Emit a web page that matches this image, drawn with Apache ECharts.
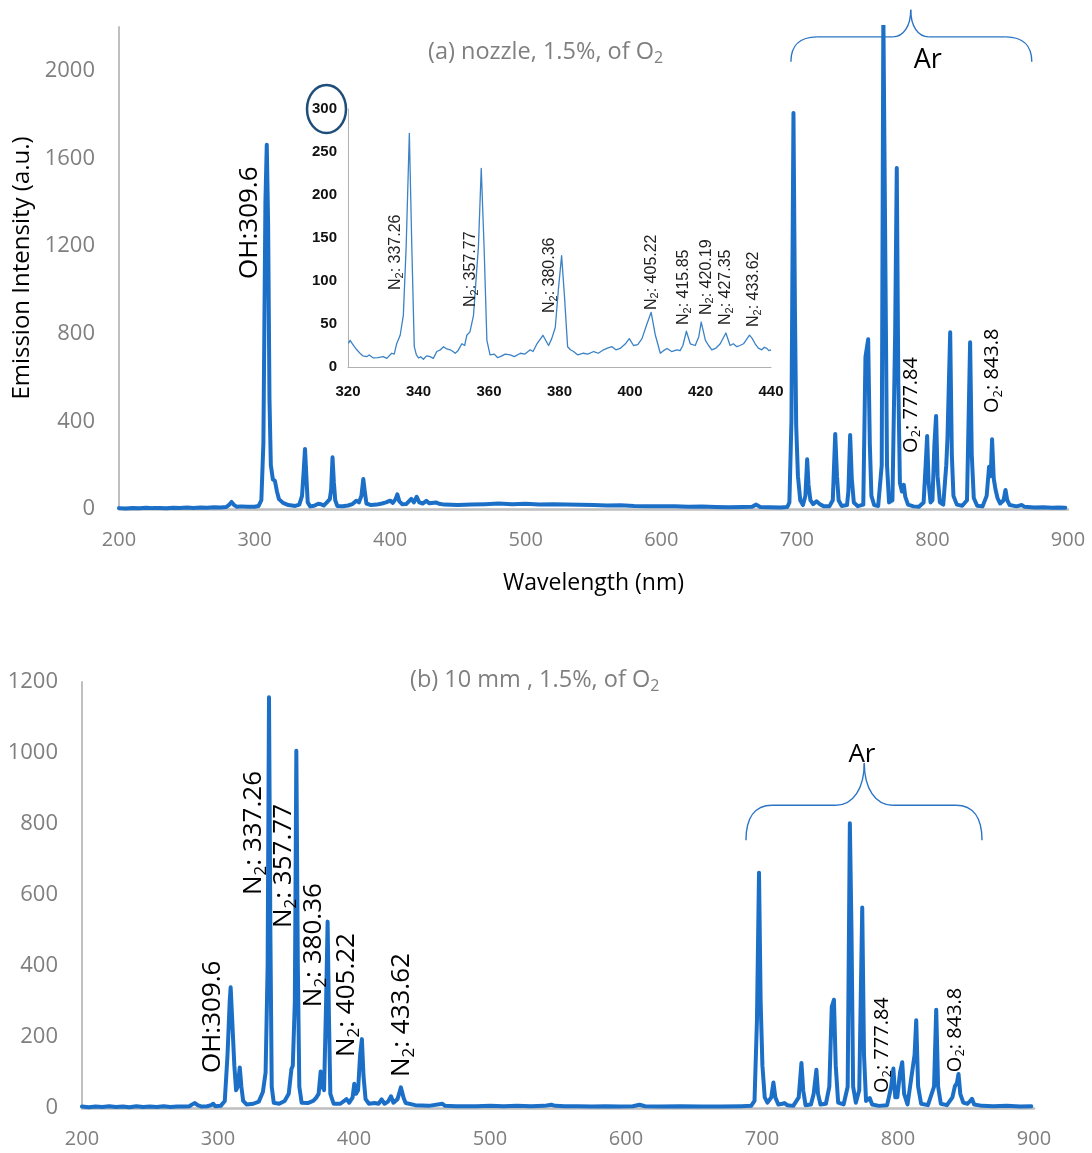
<!DOCTYPE html>
<html>
<head>
<meta charset="utf-8">
<script src="https://cdn.jsdelivr.net/npm/echarts@6/dist/echarts.min.js"></script>
<style>html,body{margin:0;padding:0;background:#fff}#c{width:1092px;height:1153px}</style>
</head>
<body>
<div id="c"></div>
<script>
// ---------- DATA ----------
const xTicks = [200, 300, 400, 500, 600, 700, 800, 900];
const insetXTicks = [320, 340, 360, 380, 400, 420, 440];

// (a) nozzle spectrum [wavelength nm, intensity a.u.]
const nozzleSpectrum = [
[200,4],[205,2],[210,5],[215,3],[220,6],[225,4],[230,5],[235,3],[240,6],[245,5],[250,7],[255,5],[260,7],[265,6],[270,8],[275,7],[279,9],[281,18],[283,32],[285,18],[287,10],[290,12],[295,10],[300,10],[303,14],
[305,40],[306.5,300],[308,1400],[309,1662],[310,1300],[311,500],[312,200],[313.5,135],[315,128],[316.5,80],[318,45],[321,28],[325,18],[330,14],[333,20],
[335,60],[336.3,180],[337.2,274],[338.2,150],[339.2,30],[341,12],[344,15],[347,24],[349,22],[351,16],[353,28],[355.5,45],[356.5,90],[357.5,236],[358.5,120],[359.5,40],[361,14],[365,13],[369,16],[372,22],[375,38],[377,30],[378.8,60],[380.2,137],[381.3,80],[382.5,25],
[386,18],[390,20],[394,25],[397,30],[400,38],[402,28],[404,45],[405.3,67],[406.8,35],[409,22],[412,23],[415.6,46],[417.5,30],[419.6,56],[421.5,30],[424,25],[426.7,37],[429,26],[433.8,30],[436,24],
[440,20],[450,18],[460,20],[470,22],[480,25],[490,22],[500,24],[510,21],[520,22],[530,20],[540,19],[550,18],[560,16],[570,17],[580,14],[590,13],[600,12],[610,12],[620,10],[630,11],[640,9],[650,8],[660,9],[667,10],[670,20],[673,9],[680,8],[688,7],[693,9],
[694.5,30],[696,400],[697.5,1807],[698.6,900],[699.5,380],[700.8,150],[702.5,40],[704.5,18],
[706.3,60],[707.6,227],[708.6,110],[710,40],[712,22],[714.5,35],[715.7,42],[717,22],[720,12],[724,12],
[726.5,40],[728.3,342],[729.6,150],[730.8,40],[733,14],[737,18],[738,80],[739.3,338],[740.5,140],[742,30],[745,13],
[749,20],[750.6,694],[752.6,775],[753.8,300],[755,60],[757,18],[760,14],[762.6,200],[763.8,2260],[765.2,2260],[766.5,200],[768,30],
[770.5,40],[772.5,800],[773.7,1556],[774.8,600],[776,120],[777.5,80],[778.9,110],[780,55],[782,20],[786,12],[790,10],
[793.5,30],[795,200],[796.1,333],[797.2,120],[798.6,30],[800,40],[801.5,300],[802.7,425],[803.8,150],[805.5,30],[808,20],
[810.2,200],[811.1,324],[813.1,807],[814.3,250],[815.5,60],[818,20],[822,15],[825.5,40],[827.8,761],[829,250],[830.5,50],[833,15],[837,12],
[840,60],[841.8,193],[843,150],[844,318],[845.2,140],[846.5,90],[848,50],[850,25],[852.5,40],[853.9,87],[855.2,40],[857,18],[862,12],[866,18],[868,10],[875,7],[882,8],[888,6],[893,7],[898,6]
];

// inset of (a): 320-440 nm
const insetSpectrum = [
[320.1,27.5],[320.6,31],[320.9,29.5],[321.4,26],[321.8,23.6],[322.5,20],[323.4,15.9],[324.2,13],[325.3,12],[326,14],[327.2,10.5],[328.5,11],[330,12],[331,10],[332.4,16],[333.1,15],[333.8,27],[334.8,36.9],[335.7,60],[336.5,140],[337.4,271.7],[338.1,140],[338.8,23.6],
[339.4,14],[340,10.5],[340.6,12],[341.4,9],[342.3,13],[343.3,12],[344.2,10],[345.2,18],[346.2,20],[347.1,23.6],[348,21],[349,20],[349.8,18],[350.4,16],[351.2,19],[352.3,27],[353.1,25],[353.7,36.9],[354.6,40.9],[355.6,60],[357,140],[357.8,231],[358.6,140],[359.4,31],
[360.3,14],[361.5,15],[362.4,11],[363.2,12],[364.6,15],[366,14],[367.2,12],[368.9,16],[370.2,15],[371.7,20],[372.5,18],[373.6,27],[375.3,36.9],[376.9,25],[377.8,33],[378.8,46],[379.7,91],[380.6,129.5],[381.4,83],[382.3,23.6],
[383.1,20],[384,18],[385.2,14],[386.8,16],[388,15],[389.7,18],[391,16],[392.5,20],[393.6,22],[394.9,23.6],[396,20],[397.2,21.6],[398.7,27],[399.8,33],[401,25],[402.2,26],[403.4,33],[404.8,50],[406,63.6],[407.2,36.9],[408.6,16],
[409.5,19],[410.5,21.6],[411.8,18],[413.3,20],[414.2,19],[415,25],[416,41.6],[417.1,27],[418.5,25],[419.5,35],[420.2,52.3],[421.4,31],[422.3,25],[423.2,20],[424.4,22],[425.6,27],[427.2,39.5],[428.4,25],
[429.3,27],[430.3,23.6],[431.2,25],[432.2,27],[433.9,37],[434.7,33],[435.5,27],[436.4,22],[437.4,20],[438.1,23],[438.8,21.6],[439.4,19],[440,20]
];

// (b) 10 mm spectrum
const tenMmSpectrum = [
[200,4],[205,2],[210,4],[215,3],[220,5],[225,3],[230,4],[235,2],[240,5],[245,3],[250,4],[255,3],[260,5],[265,3],[270,4],[275,4],[279,5],[281,10],[283,14],[285,8],[288,4],[292,5],[295,8],[296.5,12],[298,5],[302,6],
[305,20],[307,150],[308.6,300],[309.3,340],[310.3,260],[312,120],[313.3,50],[314.5,60],[316,114],[317.2,60],[318.5,20],[321,10],[326,12],[330,18],
[333,45],[335,100],[336.5,400],[337.5,1157],[338.5,500],[339.5,60],[341,15],[345,12],[349,20],[352,40],[354,110],[355,119],[356.5,300],[357.6,1006],[358.7,400],[359.8,60],[361.5,15],
[366,14],[370,20],[372,28],[374,40],[375.5,103],[376.8,60],[378,50],[379.5,300],[380.6,525],[381.6,250],[382.6,40],[385,12],[390,12],
[394.5,25],[396.5,15],[399,30],[400.2,68],[401.5,40],[403,50],[404.5,150],[405.8,194],[407,90],[408.5,25],[411,12],[415,14],[418,12],[420.3,24],[422.5,12],[425,18],[427.2,33],[429,15],[432,25],[434.5,58],[436.5,28],[438,14],
[445,8],[455,6],[465,12],[467,6],[475,5],[490,5],[500,6],[510,5],[520,6],[530,5],[540,6],[545,9],[548,6],[555,5],[565,5],[575,4],[585,5],[595,4],[605,5],[610,9],[614,5],[625,4],[640,5],[655,4],[670,4],[685,5],[692,6],
[694.5,20],[696.3,250],[697.8,663],[699,300],[700.3,120],[702,30],[704,15],
[706.8,30],[708.4,72],[709.8,30],[712,10],[715,12],[716.5,14],[718.5,8],[723,6],[727,30],[729,127],[730.3,50],[732,8],[736,10],[738,40],[740,108],[741.2,40],[743,10],
[747,12],[749.5,60],[751.3,285],[752.9,305],[754.2,120],[756,15],[760,10],[763,60],[764.6,802],[765.8,500],[767,60],[769,15],[771.5,50],[773.7,565],[775,150],[776.5,20],[779.2,28],[781,10],[786,6],
[792,8],[795,60],[796.6,111],[798,30],[799.5,30],[801.5,100],[803.1,129],[804.5,40],[807,10],[810.3,99],[812.2,150],[813.4,247],[814.8,60],[817,12],[822,8],
[826.5,60],[828.1,277],[829.5,60],[831.5,12],[836,8],[840,30],[841.8,61],[843.3,70],[844.5,96],[845.8,40],[848,15],[851,12],[853.2,20],[854.4,26],[856,10],[862,6],[870,5],[880,6],[890,4],[898,5]
];

// annotation labels: [species, wavelength label, anchor wavelength, anchor intensity]
const labelsA = [['OH', ':309.6', 296.6, 1050], ['O2', ': 777.84', 784.1, 256], ['O2', ': 843.8', 844.5, 438]];
const labelsInset = [['N2', ': 337.26', 333.6, 89.5], ['N2', ': 357.77', 354.9, 69.8], ['N2', ': 380.36', 377.3, 62.8], ['N2', ': 405.22', 406, 66.3],
  ['N2', ': 415.85', 415.3, 48.8], ['N2', ': 420.19', 421.6, 60.5], ['N2', ': 427.35', 427.2, 48.8], ['N2', ': 433.62', 435.2, 46.5]];
const labelsB = [['OH', ':309.6', 296.3, 98.5], ['N2', ': 337.26', 326.5, 600], ['N2', ': 357.77', 348.5, 507], ['N2', ': 380.36', 370.6, 284],
  ['N2', ': 405.22', 394.9, 143.5], ['N2', ': 433.62', 435.3, 87], ['O2', ': 777.84', 788.2, 42], ['O2', ': 843.8', 841.9, 101]];
// Ar group range (nm) for braces
const arRange = [695.6, 784, 873.3];
const arRangeB = [688.2, 775.2, 861.8];

// ---------- CHART ----------
const FONT = '"Open Sans", "Noto Sans", sans-serif';
const NARROW = '"Liberation Sans Narrow", "Arial Narrow", "Liberation Sans", sans-serif';
const BLUE = '#1c6fc7';
const GRAY_AXIS = '#bfbfbf';
const GRAY_TXT = '#7f7f7f';
const plain = function (v) { return String(v); };

const chart = echarts.init(document.getElementById('c'), null, {renderer: 'canvas'});

function mainX(gi) {
  return {gridIndex: gi, type: 'value', min: 200, max: 900, interval: 100,
    axisLine: {show: true, onZero: false, lineStyle: {color: GRAY_AXIS, width: 2.5}},
    axisTick: {show: false}, splitLine: {show: false},
    axisLabel: {color: GRAY_TXT, fontFamily: FONT, fontSize: 20, margin: 21, formatter: plain}};
}
function mainY(gi, max, interval) {
  return {gridIndex: gi, type: 'value', min: 0, max: max, interval: interval,
    axisLine: {show: true, lineStyle: {color: GRAY_AXIS, width: 2}},
    axisTick: {show: false}, splitLine: {show: false},
    axisLabel: {color: GRAY_TXT, fontFamily: FONT, fontSize: 22, margin: 24, formatter: plain, showMaxLabel: max % interval === 0}};
}
function titleRich() {
  return {rich: {t: {fontFamily: FONT, fontSize: 23.5, fontWeight: 'normal', color: GRAY_TXT, lineHeight: 28},
                 s: {fontFamily: FONT, fontSize: 16, fontWeight: 'normal', color: GRAY_TXT, verticalAlign: 'bottom', lineHeight: 13}}};
}

const option = {
  animation: false,
  backgroundColor: '#fff',
  title: [
    {text: '{t|(a) nozzle, 1.5%, of O}{s|2}', left: 423, top: 33, textStyle: titleRich()},
    {text: '{t|(b) 10 mm , 1.5%, of O}{s|2}', left: 405, top: 661, textStyle: titleRich()}
  ],
  grid: [
    {left: 119, top: 27, width: 949, height: 482},
    {left: 348, top: 109, width: 423, height: 258},
    {left: 82, top: 682, width: 952, height: 426}
  ],
  xAxis: [
    Object.assign(mainX(0), {name: 'Wavelength (nm)', nameLocation: 'middle', nameGap: 63,
      nameTextStyle: {color: '#000', fontFamily: FONT, fontSize: 23}}),
    {gridIndex: 1, type: 'value', min: 320, max: 440, interval: 20,
      axisLine: {show: true, onZero: false, lineStyle: {color: '#b0b0b0', width: 1}},
      axisTick: {show: false}, splitLine: {show: false},
      axisLabel: {color: '#111', fontFamily: NARROW, fontWeight: 'bold', fontSize: 15, margin: 17}},
    mainX(2)
  ],
  yAxis: [
    Object.assign(mainY(0, 2200, 400), {name: 'Emission Intensity (a.u.)', nameLocation: 'middle', nameGap: 73,
      nameTextStyle: {color: '#000', fontFamily: FONT, fontSize: 24}}),
    {gridIndex: 1, type: 'value', min: 0, max: 300, interval: 50,
      axisLine: {show: true, lineStyle: {color: '#b0b0b0', width: 1}},
      axisTick: {show: false}, splitLine: {show: false},
      axisLabel: {color: '#111', fontFamily: NARROW, fontWeight: 'bold', fontSize: 15, margin: 11}},
    mainY(2, 1200, 200)
  ],
  series: [
    {type: 'line', xAxisIndex: 0, yAxisIndex: 0, data: nozzleSpectrum, showSymbol: false, symbol: 'none', clip: true,
      lineStyle: {color: BLUE, width: 4, join: 'round', cap: 'round'}},
    {type: 'line', xAxisIndex: 1, yAxisIndex: 1, data: insetSpectrum, showSymbol: false, symbol: 'none',
      lineStyle: {color: '#3b82c6', width: 1.3, join: 'round'}},
    {type: 'line', xAxisIndex: 2, yAxisIndex: 2, data: tenMmSpectrum, showSymbol: false, symbol: 'none',
      lineStyle: {color: BLUE, width: 4, join: 'round', cap: 'round'}}
  ]
};
chart.setOption(option);

// ---------- ANNOTATIONS ----------
const graphics = [];
function sub(name) { return name === 'OH' ? '{m|OH}' : '{m|' + name[0] + '}{s|' + name[1] + '}'; }
function addLabels(list, gi, size, subSize, color, family, weight) {
  list.forEach(function (l) {
    const p = chart.convertToPixel({gridIndex: gi}, [l[2], l[3]]);
    graphics.push({type: 'text', x: p[0], y: p[1], rotation: Math.PI / 2, z: 100,
      style: {text: sub(l[0]) + '{m|' + l[1] + '}', align: 'left', verticalAlign: 'middle',
        rich: {m: {fontSize: size, fontFamily: family, fill: color, color: color, fontWeight: weight, lineHeight: size * 1.2},
               s: {fontSize: subSize, fontFamily: family, fill: color, color: color, fontWeight: weight, verticalAlign: 'bottom', lineHeight: subSize}}}});
  });
}
addLabels(labelsA.slice(0, 1), 0, 26, 17, '#000', FONT, 'normal');
addLabels(labelsA.slice(1), 0, 20, 13, '#000', FONT, 'normal');
addLabels(labelsInset, 1, 16, 11, '#222', '"Liberation Sans", Arial, sans-serif', 'normal');
addLabels(labelsB.slice(0, 6), 2, 26, 17, '#000', FONT, 'normal');
addLabels(labelsB.slice(6), 2, 20, 13, '#000', FONT, 'normal');

function brace(gi, range, vEnd, vMid, vTip, rEnd, rTip) {
  const L = chart.convertToPixel({gridIndex: gi}, [range[0], vEnd]);
  const C = chart.convertToPixel({gridIndex: gi}, [range[1], vTip]);
  const R = chart.convertToPixel({gridIndex: gi}, [range[2], vEnd]);
  const yM = chart.convertToPixel({gridIndex: gi}, [range[1], vMid])[1];
  const st = {stroke: '#2b74c4', lineWidth: 1.4, fill: 'none'};
  const yE = L[1], xL = L[0], xR = R[0], xC = C[0], yT = C[1];
  const dE = yE - yM, dT = yM - yT;
  graphics.push(
    {type: 'bezierCurve', shape: {x1: xL, y1: yE, x2: xL + rEnd, y2: yM, cpx1: xL, cpy1: yM + dE * 0.35, cpx2: xL + rEnd * 0.35, cpy2: yM}, style: st},
    {type: 'line', shape: {x1: xL + rEnd, y1: yM, x2: xC - rTip, y2: yM}, style: st},
    {type: 'bezierCurve', shape: {x1: xC - rTip, y1: yM, x2: xC, y2: yT, cpx1: xC - rTip * 0.4, cpy1: yM, cpx2: xC, cpy2: yM - dT * 0.4}, style: st},
    {type: 'bezierCurve', shape: {x1: xC, y1: yT, x2: xC + rTip, y2: yM, cpx1: xC, cpy1: yM - dT * 0.4, cpx2: xC + rTip * 0.4, cpy2: yM}, style: st},
    {type: 'line', shape: {x1: xC + rTip, y1: yM, x2: xR - rEnd, y2: yM}, style: st},
    {type: 'bezierCurve', shape: {x1: xR - rEnd, y1: yM, x2: xR, y2: yE, cpx1: xR - rEnd * 0.35, cpy1: yM, cpx2: xR, cpy2: yM + dE * 0.35}, style: st}
  );
}
brace(0, arRange, 2041, 2155, 2279, 26, 18);
brace(2, arRangeB, 754, 853, 971, 26, 28);

function arText(gi, wl, v, size) {
  const p = chart.convertToPixel({gridIndex: gi}, [wl, v]);
  graphics.push({type: 'text', x: p[0], y: p[1], z: 100,
    style: {text: 'Ar', fontFamily: FONT, fontSize: size, fill: '#000', align: 'center', verticalAlign: 'middle'}});
}
arText(0, 796.6, 2050, 27);
arText(2, 773.5, 996, 26);

// circle around the inset's top tick label
const tl = chart.convertToPixel({gridIndex: 1}, [320, 300]);
graphics.push({type: 'ellipse', shape: {cx: tl[0] - 21.5, cy: tl[1], rx: 19.5, ry: 24}, z: 100,
  style: {stroke: '#1f4e79', lineWidth: 2.5, fill: 'none'}});

chart.setOption({graphic: graphics});
</script>
</body>
</html>
